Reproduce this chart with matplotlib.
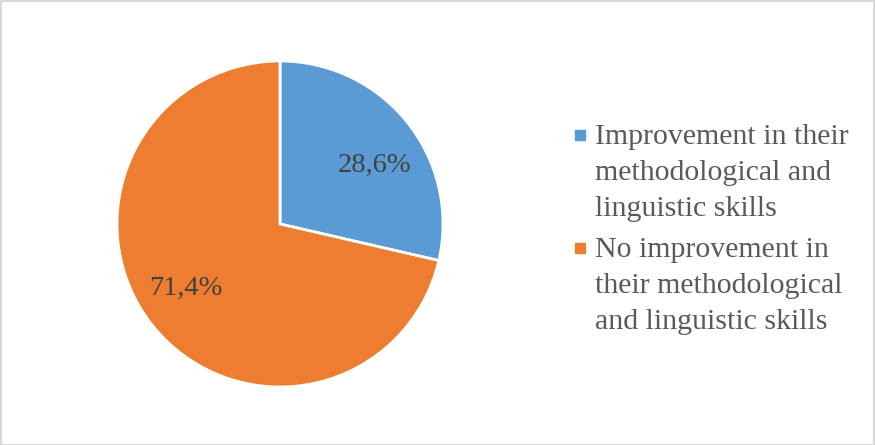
import numpy as np
import matplotlib.pyplot as plt
from matplotlib.patches import Rectangle

# datos del grafico
categorias = ['Improvement in their\nmethodological and\nlinguistic skills',
              'No improvement in\ntheir methodological\nand linguistic skills']
valores = [28.6, 71.4]
colores = ['#5B9BD5', '#ED7D31']

plt.rcParams['font.family'] = ['Liberation Serif', 'DejaVu Serif']

fig = plt.figure(figsize=(8.75, 4.45), dpi=100)
W, H = 875, 445
cx, cy, r = 280, 224, 163
ax = fig.add_axes([(cx - r) / W, (H - cy - r) / H, 2 * r / W, 2 * r / H])

def etiqueta(p):
    return ('%.1f%%' % p).replace('.', ',')

wedges, textos = ax.pie(valores, colors=colores, startangle=90, counterclock=False,
                        radius=1, wedgeprops=dict(edgecolor='white', linewidth=2))

# etiquetas de porcentaje, un poco giradas como en el original
for w, v in zip(wedges, valores):
    ang = np.deg2rad((w.theta1 + w.theta2) / 2 - 5.5)
    ax.text(0.69 * np.cos(ang), 0.69 * np.sin(ang), etiqueta(v), fontsize=20.5,
            color='#404040', ha='center', va='center_baseline')

ax.set_xlim(-1, 1)
ax.set_ylim(-1, 1)
ax.set_aspect('equal')
ax.axis('off')

# leyenda a mano para que el cuadrito quede en la primera linea
tops = [124, 237]
for cat, col, top in zip(categorias, colores, tops):
    fig.patches.append(Rectangle((575 / W, 1 - (top + 16) / H), 10 / W, 10 / H,
                                 transform=fig.transFigure, color=col))
    fig.text(595 / W, 1 - top / H, cat, fontsize=21.5, color='#595959',
             va='top', ha='left', linespacing=1.5)

fig.patches.append(Rectangle((0.5 / W, 0.5 / H), 1 - 1.5 / W, 1 - 1.5 / H, transform=fig.transFigure,
                             fill=False, edgecolor='#D9D9D9', linewidth=1.5))

fig.savefig('out.png', dpi=100)
